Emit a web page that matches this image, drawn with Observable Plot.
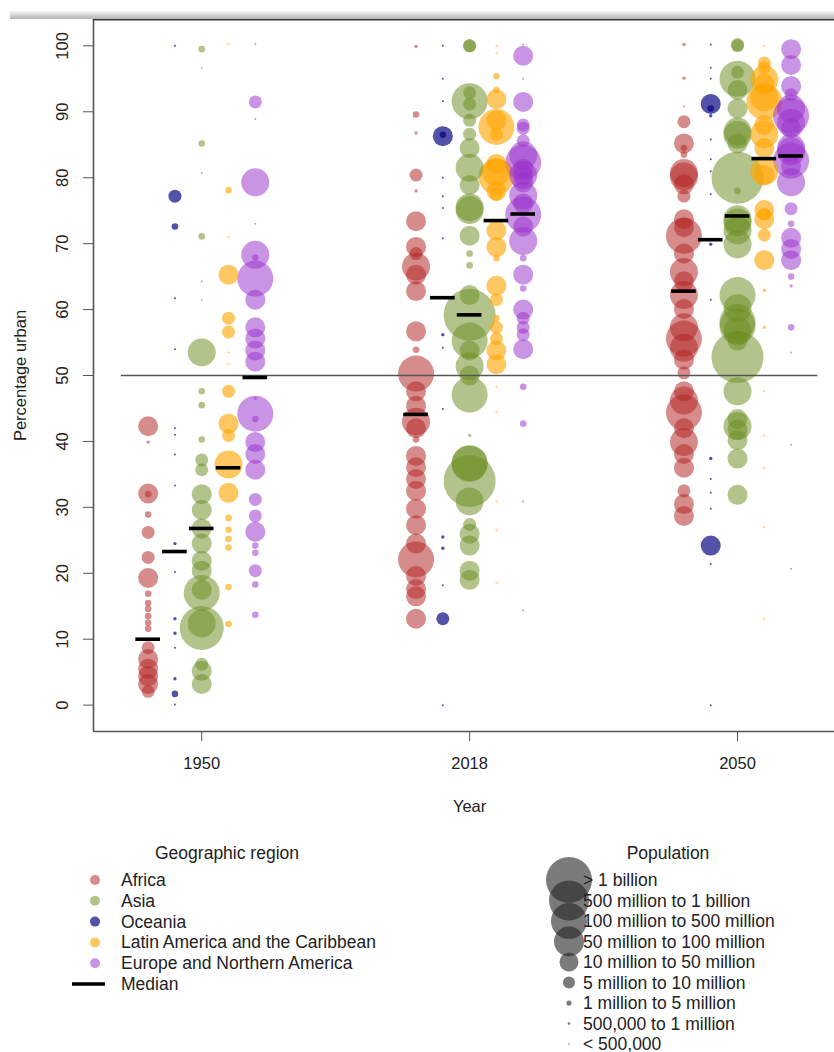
<!DOCTYPE html>
<html>
<head>
<meta charset="utf-8">
<script src="https://cdn.jsdelivr.net/npm/d3@7"></script>
<script src="https://cdn.jsdelivr.net/npm/@observablehq/plot@0.6"></script>
<style>
  html, body { margin: 0; padding: 0; background: #fff; overflow: hidden; }
  #wrap { position: relative; width: 834px; height: 1052px; font-family: "Liberation Sans", Arial, Helvetica, sans-serif; color: #222; }
  #chart { position: absolute; left: 0; top: 0; }
  #topband { position: absolute; left: 10px; top: 11px; width: 824px; height: 8px; background: linear-gradient(#f6f6f6, #b4b4b4); z-index: 2; }
  #legend { position: absolute; left: 0; top: 830px; width: 834px; height: 222px; }
  #legend svg { position: absolute; left: 0; top: 0; }
  .lt { position: absolute; font-size: 17.5px; line-height: 20px; white-space: nowrap; }
</style>
</head>
<body>
<div id="wrap">
  <div id="chart"></div>
  <div id="topband"></div>
  <div id="legend"></div>
</div>
<script>
// ---------- categories ----------
const years = ["1950", "2018", "2050"];
const regions = ["Africa", "Asia", "Oceania", "Latin America and the Caribbean", "Europe and Northern America"];
const columnOrder = ["Africa", "Oceania", "Asia", "Latin America and the Caribbean", "Europe and Northern America"];
const regionColors = ["rgba(178,34,34,0.52)", "rgba(107,142,35,0.52)", "rgba(0,0,128,0.68)", "rgba(255,165,0,0.62)", "rgba(153,50,204,0.52)"];
// population classes, 1 = smallest ... 9 = largest
const populationClasses = ["< 500,000", "500,000 to 1 million", "1 million to 5 million", "5 million to 10 million",
  "10 million to 50 million", "50 million to 100 million", "100 million to 500 million", "500 million to 1 billion", "> 1 billion"];
const yTicks = [0, 10, 20, 30, 40, 50, 60, 70, 80, 90, 100];
const referenceLevel = 50;

// ---------- series: [percentage urban, population class] ----------
const africa1950 = [[42.3,5],[39.9,2],[32.1,5],[32.0,3],[28.9,3],[26.2,4],[22.4,4],[19.3,5],[16.9,3],[15.5,3],[14.6,3],[13.5,3],[12.5,3],[11.6,3],[8.7,4],[7.0,5],[5.5,5],[4.4,5],[3.2,5],[2.1,4]];
const asia1950 = [[99.5,3],[96.7,1],[85.2,3],[80.7,1],[71.1,3],[64.3,1],[61.5,1],[53.5,6],[47.6,3],[45.5,3],[40.3,3],[37.2,4],[35.7,4],[32.0,5],[29.6,5],[26.8,5],[24.5,5],[21.9,5],[20.4,5],[17.5,5],[17.0,7],[12.4,6],[11.7,8],[6.2,4],[5.2,5],[3.2,5]];
const oceania1950 = [[100,1],[77.2,4],[72.6,3],[61.7,1],[54.0,1],[42.0,1],[41.0,1],[38.0,1],[33.3,1],[24.5,2],[20.2,1],[13.1,2],[10.9,2],[8.7,1],[4.0,2],[1.7,3],[0.1,1]];
const latam1950 = [[100.3,1],[78.1,3],[71.0,1],[65.3,5],[58.7,4],[56.6,4],[53.5,1],[51.7,1],[47.6,4],[42.7,5],[40.9,4],[36.5,6],[32.2,5],[28.4,3],[26.6,3],[25.2,3],[23.9,3],[17.9,3],[12.3,3]];
const europe1950 = [[100.3,1],[91.5,4],[88.9,1],[79.3,6],[73.0,1],[68.3,6],[67.9,3],[64.7,7],[61.5,5],[57.3,5],[55.6,5],[53.8,5],[52.1,5],[46.5,2],[44.2,7],[43.4,3],[39.9,5],[38.1,5],[35.7,5],[31.2,4],[28.7,4],[26.3,5],[24.2,3],[23.1,3],[20.4,4],[18.3,3],[13.7,3]];

const africa2018 = [[99.9,2],[89.6,3],[86.8,2],[80.4,4],[78.0,2],[73.4,5],[69.5,5],[68.5,4],[66.5,6],[65.3,5],[62.8,5],[56.7,5],[53.9,3],[50.3,7],[47.6,5],[45.4,5],[43.0,6],[42.0,5],[40.3,3],[37.8,5],[36.1,5],[34.3,5],[32.5,5],[29.8,5],[27.3,5],[24.5,5],[22.1,7],[19.6,5],[17.6,5],[16.5,5],[13.1,5]];
const asia2018 = [[100,4],[100,4],[92.9,4],[91.6,7],[91.2,4],[88.7,4],[86.6,4],[84.5,5],[81.5,6],[78.9,5],[75.5,6],[75.1,6],[71.2,5],[68.5,3],[66.7,3],[62.2,5],[59.2,9],[55.3,7],[53.8,5],[51.4,6],[50.0,5],[47.1,7],[40.9,2],[36.7,7],[36.6,7],[34.0,9],[30.9,6],[27.4,4],[26.0,5],[24.2,5],[20.4,5],[19.0,5]];
const oceania2018 = [[100,1],[95,1],[91.6,1],[86.5,3],[86.3,5],[80,1],[77.2,1],[75.4,1],[70.8,1],[56.2,2],[54.2,1],[44.9,1],[25.5,2],[23.8,2],[18.2,1],[13.1,4],[0,1]];
const latam2018 = [[100,1],[98.9,1],[95.4,3],[93.3,3],[91.9,5],[88.7,5],[87.7,7],[86.6,4],[82.1,5],[80.8,6],[80.2,7],[78.0,5],[77.5,4],[72.0,5],[69.5,5],[67.8,3],[63.6,5],[61.5,4],[58.7,3],[57.3,4],[55.6,4],[53.8,5],[51.7,5],[48.3,1],[44.4,1],[30.9,1],[26.6,1],[18.6,1]];
const europe2018 = [[100.2,1],[98.5,5],[95,1],[91.5,5],[88,4],[87.5,4],[85.6,4],[83.4,6],[82.3,7],[81.4,5],[80.4,6],[80.3,5],[79.3,5],[77.3,6],[76.1,5],[74.4,7],[72.6,5],[70.4,6],[67.8,3],[65.3,5],[63.2,3],[60.0,5],[58.7,4],[57.3,4],[56.2,4],[54.0,5],[48.3,3],[42.7,3],[30.9,1],[14.4,1]];

const africa2050 = [[100.2,2],[95.1,2],[90.8,1],[88.5,4],[85.2,5],[84.5,3],[83.5,3],[80.7,6],[80.2,6],[79.0,5],[77.2,4],[73.7,5],[72.5,5],[71.2,7],[68.5,5],[65.7,6],[64.3,5],[62.2,6],[60.1,5],[57.3,6],[55.6,7],[54.2,6],[52.4,5],[50.4,4],[47.6,5],[46.2,6],[44.4,7],[42.0,5],[39.9,6],[38.1,5],[36.0,5],[32.5,4],[30.5,5],[28.7,5]];
const asia2050 = [[100.2,4],[100,4],[96,4],[95,7],[93.3,5],[90.5,5],[87,6],[86.5,6],[85.2,5],[80.0,9],[78,3],[73.7,6],[73.2,6],[72,6],[69.9,6],[62.2,7],[60.2,6],[58.1,7],[57.5,7],[56.7,6],[55.3,5],[52.8,9],[47.6,6],[43.4,5],[42.3,6],[41.8,5],[40.2,5],[37.4,5],[31.9,5]];
const oceania2050 = [[100.2,1],[96.7,1],[95,1],[91.2,5],[90.5,3],[89.4,2],[85.8,1],[82.8,1],[81,1],[77.5,1],[69.9,2],[61.5,1],[37.4,2],[34.3,1],[32.2,1],[29.8,1],[24.2,5],[21.4,1],[0,1]];
const latam2050 = [[100,1],[97.4,4],[96.7,4],[94.9,6],[94.3,5],[92.2,6],[91.5,7],[88,5],[86.6,6],[84.5,5],[81,6],[80.4,5],[75.1,5],[74.5,4],[73.7,5],[71.3,4],[67.5,5],[62.9,2],[57.3,2],[47.6,1],[40.9,1],[36,1],[27,1],[13.1,1]];
const europe2050 = [[99.5,5],[97.1,5],[93.9,5],[92.6,4],[90.5,6],[89.4,7],[88.3,6],[87.5,5],[84.5,6],[84,6],[82.6,7],[81.8,5],[79.3,6],[75.3,4],[73,3],[70.9,5],[69.2,5],[67.5,5],[65,3],[63.6,2],[57.3,3],[53.5,1],[39.5,1],[20.7,1]];

// medians per year, in the order of `regions`
const medians1950 = [10.0, 26.8, 23.3, 36.0, 49.7];
const medians2018 = [44.1, 59.2, 61.8, 73.5, 74.5];
const medians2050 = [62.8, 74.2, 70.6, 82.9, 83.3];

// ---------- build tables ----------
const seriesByYear = {
  "1950": [africa1950, asia1950, oceania1950, latam1950, europe1950],
  "2018": [africa2018, asia2018, oceania2018, latam2018, europe2018],
  "2050": [africa2050, asia2050, oceania2050, latam2050, europe2050]
};
const mediansByYear = {"1950": medians1950, "2018": medians2018, "2050": medians2050};

const groupSpacing = 10;
const colPos = (year, region) => years.indexOf(year) * groupSpacing + columnOrder.indexOf(region) - (columnOrder.length - 1) / 2;

const points = [];
const medianRows = [];
for (const yr of years) {
  regions.forEach((rg, ri) => {
    for (const [pct, cls] of seriesByYear[yr][ri]) points.push({year: yr, region: rg, pct, cls, x: colPos(yr, rg)});
    medianRows.push({year: yr, region: rg, pct: mediansByYear[yr][ri], x: colPos(yr, rg)});
  });
}
const xMin = d3.min(points, d => d.x), xMax = d3.max(points, d => d.x);
const xDomain = [xMin - 2.04, xMax + 1.62];
const yDomain = [-4, 104];
const groupTicks = years.map((y, i) => i * groupSpacing);

const font = "'Liberation Sans', Arial, Helvetica, sans-serif";

const chart = Plot.plot({
  width: 834,
  height: 830,
  marginLeft: 93,
  marginRight: 0,
  marginTop: 19,
  marginBottom: 99,
  style: {fontFamily: font, color: "#222", background: "white", overflow: "visible"},
  x: {domain: xDomain, axis: null},
  y: {domain: yDomain, axis: null},
  r: {type: "linear", domain: [1, 2, 3, 4, 5, 6, 7, 8, 9], range: [1, 1.7, 3.3, 6.5, 10, 14, 18, 22, 26]},
  color: {domain: regions, range: regionColors},
  marks: [
    Plot.dot(points, {x: "x", y: "pct", r: "cls", fill: "region", stroke: "none"}),
    Plot.ruleY([referenceLevel], {x1: xMin - 1, x2: xMax + 1, stroke: "#555", strokeWidth: 1.4}),
    Plot.ruleY(medianRows, {y: "pct", x1: d => d.x - 0.46, x2: d => d.x + 0.46, stroke: "black", strokeWidth: 3.6}),
    // frame lines
    Plot.ruleX([xDomain[0]], {stroke: "#555", strokeWidth: 1.6}),
    Plot.ruleY([yDomain[0]], {stroke: "#555", strokeWidth: 1.6}),
    Plot.ruleY([yDomain[1]], {stroke: "#3a3a3a", strokeWidth: 2}),
    // y axis ticks + rotated labels
    Plot.axisY({ticks: yTicks, tickSize: 10, tickFormat: () => "", label: null, stroke: "#555"}),
    Plot.text(yTicks, {y: d => d, text: d => String(d), frameAnchor: "left", dx: -31, rotate: -90,
      textAnchor: "middle", lineAnchor: "middle", fontSize: 16.5, fill: "#222"}),
    Plot.text(["Percentage urban"], {y: (yTicks[0] + yTicks[yTicks.length - 1]) / 2, frameAnchor: "left", dx: -73, rotate: -90,
      textAnchor: "middle", lineAnchor: "middle", fontSize: 16.5, fill: "#222"}),
    // x axis ticks + labels
    Plot.axisX({ticks: groupTicks, tickSize: 10, tickFormat: () => "", label: null, stroke: "#555"}),
    Plot.text(groupTicks, {x: d => d, text: (d, i) => years[i], frameAnchor: "bottom", dy: 32,
      textAnchor: "middle", lineAnchor: "middle", fontSize: 16.5, fill: "#222"}),
    Plot.text(["Year"], {x: groupTicks[1], frameAnchor: "bottom", dy: 75,
      textAnchor: "middle", lineAnchor: "middle", fontSize: 16.5, fill: "#222"})
  ]
});
document.getElementById("chart").appendChild(chart);

// ---------- legends ----------
const legend = document.getElementById("legend");
const legendTop = 830;
function addText(x, yPage, txt, center) {
  const d = document.createElement("div");
  d.className = "lt";
  d.textContent = txt;
  d.style.top = (yPage - legendTop - 10) + "px";
  d.style.left = x + "px";
  if (center) d.style.transform = "translateX(-50%)";
  legend.appendChild(d);
}
let svg = `<svg width="834" height="222" xmlns="http://www.w3.org/2000/svg">`;
// region legend
const regRow0 = 880, regStep = 20.8;
regions.forEach((rg, i) => {
  svg += `<circle cx="95" cy="${regRow0 + i * regStep - legendTop}" r="5" fill="${regionColors[i]}"/>`;
});
const medRowY = regRow0 + regions.length * regStep;
svg += `<line x1="72" x2="105" y1="${medRowY - legendTop}" y2="${medRowY - legendTop}" stroke="black" stroke-width="3.6"/>`;
// population legend
const popRow0 = 880, popStep = 20.5;
const legendRadius = [0.8, 1.3, 2.6, 6, 9.5, 15, 18, 20, 23];
const popOrder = populationClasses.map((_, i) => populationClasses.length - 1 - i);
popOrder.forEach((ci, row) => {
  svg += `<circle cx="569" cy="${popRow0 + row * popStep - legendTop}" r="${legendRadius[ci]}" fill="rgba(35,35,35,0.6)"/>`;
});
svg += `</svg>`;
legend.innerHTML = svg;

addText(227, 853, "Geographic region", true);
regions.forEach((rg, i) => addText(121, regRow0 + i * regStep, rg, false));
addText(121, medRowY, "Median", false);
addText(668, 853, "Population", true);
popOrder.forEach((ci, row) => addText(583, popRow0 + row * popStep, populationClasses[ci], false));
</script>
</body>
</html>
